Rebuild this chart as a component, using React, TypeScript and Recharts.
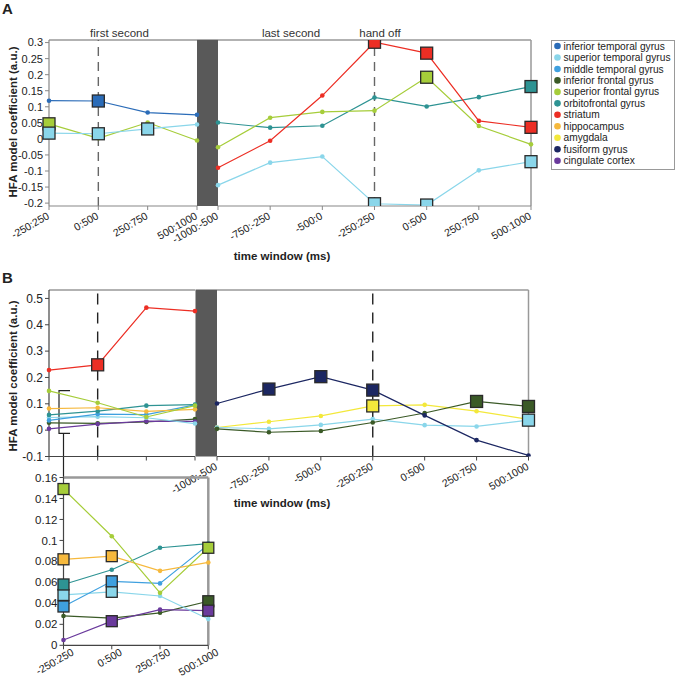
import React from "react";
import { LineChart, Line, XAxis, YAxis, ReferenceLine } from "recharts";

const FONT = "'Liberation Sans', Arial, sans-serif";

const firstWindows = ["-250:250", "0:500", "250:750", "500:1000"];
const lastWindows = ["-1000:-500", "-750:-250", "-500:0", "-250:250", "0:500", "250:750", "500:1000"];

const regionNames = [
  "inferior temporal gyrus",
  "superior temporal gyrus",
  "middle temporal gyrus",
  "inferior frontal gyrus",
  "superior frontal gyrus",
  "orbitofrontal gyrus",
  "striatum",
  "hippocampus",
  "amygdala",
  "fusiform gyrus",
  "cingulate cortex",
];
const regionColors = [
  "#2b6cb8",
  "#8ad6ea",
  "#3fa0df",
  "#3b5a27",
  "#a6cd3a",
  "#2e9393",
  "#ec2e24",
  "#f6b93d",
  "#f3e83b",
  "#1c2762",
  "#6a3a9c",
];

// panel A, first second
const aFirstInferiorTemporal = [0.119, 0.118, 0.082, 0.075];
const aFirstInferiorTemporalSig = [0, 1, 0, 0];
const aFirstSuperiorFrontal = [0.047, 0.002, 0.051, -0.005];
const aFirstSuperiorFrontalSig = [1, 0, 0, 0];
const aFirstSuperiorTemporal = [0.018, 0.016, 0.031, 0.045];
const aFirstSuperiorTemporalSig = [1, 1, 1, 0];

// panel A, last second
const aLastOrbitofrontal = [0.051, 0.035, 0.041, 0.129, 0.101, 0.13, 0.163];
const aLastOrbitofrontalSig = [0, 0, 0, 0, 0, 0, 1];
const aLastSuperiorFrontal = [-0.026, 0.066, 0.084, 0.088, 0.192, 0.04, -0.017];
const aLastSuperiorFrontalSig = [0, 0, 0, 0, 1, 0, 0];
const aLastSuperiorTemporal = [-0.144, -0.074, -0.055, -0.202, -0.206, -0.098, -0.071];
const aLastSuperiorTemporalSig = [0, 0, 0, 1, 1, 0, 1];
const aLastStriatum = [-0.09, -0.006, 0.135, 0.301, 0.267, 0.056, 0.036];
const aLastStriatumSig = [0, 0, 0, 1, 1, 0, 1];

// panel B, first second
const bFirstStriatum = [0.228, 0.248, 0.465, 0.452];
const bFirstStriatumSig = [0, 1, 0, 0];
const bFirstSuperiorFrontal = [0.149, 0.104, 0.05, 0.093];
const bFirstSuperiorFrontalSig = [1, 0, 0, 1];
const bFirstHippocampus = [0.082, 0.085, 0.071, 0.079];
const bFirstHippocampusSig = [1, 1, 0, 0];
const bFirstOrbitofrontal = [0.058, 0.072, 0.093, 0.097];
const bFirstOrbitofrontalSig = [1, 0, 0, 0];
const bFirstMiddleTemporal = [0.037, 0.061, 0.059, 0.096];
const bFirstMiddleTemporalSig = [1, 1, 0, 0];
const bFirstSuperiorTemporal = [0.048, 0.051, 0.047, 0.025];
const bFirstSuperiorTemporalSig = [1, 1, 0, 0];
const bFirstInferiorFrontal = [0.028, 0.026, 0.031, 0.042];
const bFirstInferiorFrontalSig = [0, 0, 0, 1];
const bFirstCingulate = [0.005, 0.023, 0.034, 0.033];
const bFirstCingulateSig = [0, 1, 0, 1];

// panel B, last second
const bLastAmygdala = [0.01, 0.032, 0.054, 0.092, 0.096, 0.072, 0.041];
const bLastAmygdalaSig = [0, 0, 0, 1, 0, 0, 0];
const bLastSuperiorTemporal = [0.01, 0.005, 0.02, 0.042, 0.019, 0.014, 0.038];
const bLastSuperiorTemporalSig = [0, 0, 0, 0, 0, 0, 1];
const bLastInferiorFrontal = [0.005, -0.008, -0.003, 0.029, 0.065, 0.109, 0.09];
const bLastInferiorFrontalSig = [0, 0, 0, 0, 0, 1, 1];
const bLastFusiform = [0.101, 0.156, 0.203, 0.152, 0.056, -0.038, -0.096];
const bLastFusiformSig = [0, 1, 1, 1, 0, 0, 0];

const aTicks = [0.3, 0.25, 0.2, 0.15, 0.1, 0.05, 0, -0.05, -0.1, -0.15, -0.2];
const bTicks = [0.5, 0.4, 0.3, 0.2, 0.1, 0, -0.1];
const insetTicks = [0.16, 0.14, 0.12, 0.1, 0.08, 0.06, 0.04, 0.02, 0];

const aDomain = [-0.209, 0.308];
const bDomain = [-0.1, 0.532];
const insetDomain = [0, 0.16];

type Series = { key: string; color: string; values: number[]; sig: number[] };

const c = (name: string) => regionColors[regionNames.indexOf(name)];
const none4 = [0, 0, 0, 0];

const aFirstSeries: Series[] = [
  { key: "it", color: c("inferior temporal gyrus"), values: aFirstInferiorTemporal, sig: aFirstInferiorTemporalSig },
  { key: "sf", color: c("superior frontal gyrus"), values: aFirstSuperiorFrontal, sig: aFirstSuperiorFrontalSig },
  { key: "st", color: c("superior temporal gyrus"), values: aFirstSuperiorTemporal, sig: aFirstSuperiorTemporalSig },
];
const aLastSeries: Series[] = [
  { key: "of", color: c("orbitofrontal gyrus"), values: aLastOrbitofrontal, sig: aLastOrbitofrontalSig },
  { key: "sf", color: c("superior frontal gyrus"), values: aLastSuperiorFrontal, sig: aLastSuperiorFrontalSig },
  { key: "st", color: c("superior temporal gyrus"), values: aLastSuperiorTemporal, sig: aLastSuperiorTemporalSig },
  { key: "str", color: c("striatum"), values: aLastStriatum, sig: aLastStriatumSig },
];
const insetSeries: Series[] = [
  { key: "if", color: c("inferior frontal gyrus"), values: bFirstInferiorFrontal, sig: bFirstInferiorFrontalSig },
  { key: "cc", color: c("cingulate cortex"), values: bFirstCingulate, sig: bFirstCingulateSig },
  { key: "st", color: c("superior temporal gyrus"), values: bFirstSuperiorTemporal, sig: bFirstSuperiorTemporalSig },
  { key: "mt", color: c("middle temporal gyrus"), values: bFirstMiddleTemporal, sig: bFirstMiddleTemporalSig },
  { key: "of", color: c("orbitofrontal gyrus"), values: bFirstOrbitofrontal, sig: bFirstOrbitofrontalSig },
  { key: "hc", color: c("hippocampus"), values: bFirstHippocampus, sig: bFirstHippocampusSig },
  { key: "sf", color: c("superior frontal gyrus"), values: bFirstSuperiorFrontal, sig: bFirstSuperiorFrontalSig },
];
const bFirstSeries: Series[] = [
  ...insetSeries.map((s) => ({ ...s, sig: none4 })),
  { key: "str", color: c("striatum"), values: bFirstStriatum, sig: bFirstStriatumSig },
];
const bLastSeries: Series[] = [
  { key: "am", color: c("amygdala"), values: bLastAmygdala, sig: bLastAmygdalaSig },
  { key: "st", color: c("superior temporal gyrus"), values: bLastSuperiorTemporal, sig: bLastSuperiorTemporalSig },
  { key: "if", color: c("inferior frontal gyrus"), values: bLastInferiorFrontal, sig: bLastInferiorFrontalSig },
  { key: "fg", color: c("fusiform gyrus"), values: bLastFusiform, sig: bLastFusiformSig },
];

const makeDot = (color: string, sig: number[], size: number) => (props: any) => {
  const { cx, cy, index } = props;
  if (cx == null || cy == null) return <g key={`e-${index}`} />;
  if (sig[index]) {
    return (
      <rect
        key={`s-${index}`}
        x={cx - size / 2}
        y={cy - size / 2}
        width={size}
        height={size}
        fill={color}
        stroke="#2a2a2a"
        strokeWidth={1.3}
      />
    );
  }
  return <circle key={`c-${index}`} cx={cx} cy={cy} r={2.3} fill={color} />;
};

const makeTick = (dx: number, dy: number) => (props: any) => {
  const { x, y, payload } = props;
  return (
    <g transform={`translate(${x + dx},${y + dy}) rotate(-30)`}>
      <text x={0} y={0} textAnchor="end" fontSize={10.5} fill="#222" fontFamily={FONT}>
        {payload.value}
      </text>
    </g>
  );
};
const emptyTick = () => <g />;

type SegProps = {
  windows: string[];
  series: Series[];
  width: number;
  height: number;
  margin: { top: number; right: number; bottom: number; left: number };
  domain: number[];
  ticks: number[];
  yWidth?: number;
  yFont?: number;
  showY: boolean;
  xLabels: boolean;
  xHeight: number;
  tickDx?: number;
  tickDy?: number;
  axisColor: string;
  borderColor: string;
  borderWidth?: number;
  rightBorder?: boolean;
  dashAt?: string;
  dashColor?: string;
  dashArray?: string;
  squareSize: number;
};

function Segment(p: SegProps) {
  const data = p.windows.map((w, i) => {
    const row: Record<string, string | number> = { window: w };
    p.series.forEach((s) => {
      row[s.key] = s.values[i];
    });
    return row;
  });
  return (
    <LineChart width={p.width} height={p.height} margin={p.margin} data={data}>
      <XAxis
        dataKey="window"
        height={p.xHeight}
        interval={0}
        tickSize={4}
        axisLine={{ stroke: p.axisColor, strokeWidth: 1.2 }}
        tickLine={{ stroke: p.axisColor }}
        tick={p.xLabels ? makeTick(p.tickDx ?? 1, p.tickDy ?? 6) : emptyTick}
      />
      <YAxis
        hide={!p.showY}
        width={p.yWidth ?? 0}
        type="number"
        domain={p.domain}
        ticks={p.ticks}
        interval={0}
        allowDataOverflow
        tickSize={4}
        axisLine={{ stroke: p.axisColor, strokeWidth: 1.2 }}
        tickLine={{ stroke: p.axisColor }}
        tick={{ fontSize: p.yFont ?? 11, fill: "#222", fontFamily: FONT }}
        tickFormatter={(v: number) => String(v)}
      />
      <ReferenceLine y={p.domain[1]} stroke={p.borderColor} strokeWidth={p.borderWidth ?? 1.5} />
      {p.rightBorder && (
        <ReferenceLine x={p.windows[p.windows.length - 1]} stroke={p.borderColor} strokeWidth={p.borderWidth ?? 1.5} />
      )}
      {p.dashAt && (
        <ReferenceLine x={p.dashAt} stroke={p.dashColor} strokeWidth={1.4} strokeDasharray={p.dashArray} />
      )}
      {p.series.map((s) => (
        <Line
          key={s.key}
          type="linear"
          dataKey={s.key}
          stroke={s.color}
          strokeWidth={1.2}
          dot={makeDot(s.color, s.sig, p.squareSize)}
          activeDot={false}
          isAnimationActive={false}
        />
      ))}
    </LineChart>
  );
}

const abs = (top: number): React.CSSProperties => ({ position: "absolute", left: 0, top });

export default function App() {
  return (
    <div style={{ position: "relative", width: 676, height: 680, background: "#fff", fontFamily: FONT }}>
      <style>{`body{margin:0}`}</style>
      <svg width={676} height={680} style={{ position: "absolute", left: 0, top: 0 }}>
        <rect x={197} y={39.5} width={21} height={166.5} fill="#595959" />
        <rect x={195.5} y={289.5} width={21.5} height={167} fill="#595959" />
        <text x={2} y={14} fontSize={15} fontWeight="bold" fill="#222">A</text>
        <text x={2} y={283} fontSize={15} fontWeight="bold" fill="#222">B</text>
        <text x={119.5} y={37} fontSize={11.5} textAnchor="middle" fill="#333">first second</text>
        <text x={291} y={37} fontSize={11.5} textAnchor="middle" fill="#333">last second</text>
        <text x={380} y={37} fontSize={11.5} textAnchor="middle" fill="#333">hand off</text>
        <text transform="rotate(-90)" x={-122} y={16.5} fontSize={11.5} fontWeight="bold" textAnchor="middle" fill="#222">
          HFA model coefficient (a.u.)
        </text>
        <text transform="rotate(-90)" x={-376} y={16.5} fontSize={11.5} fontWeight="bold" textAnchor="middle" fill="#222">
          HFA model coefficient (a.u.)
        </text>
        <text x={282} y={260} fontSize={11.5} fontWeight="bold" textAnchor="middle" fill="#222">time window (ms)</text>
        <text x={282} y={507} fontSize={11.5} fontWeight="bold" textAnchor="middle" fill="#222">time window (ms)</text>
        <path d="M70,390.7 H59 V433.3 H70" fill="none" stroke="#222" strokeWidth={1.2} />
        <line x1={63.5} y1={433.3} x2={63.5} y2={478} stroke="#222" strokeWidth={1.2} />
        <rect x={551.5} y={40.5} width={123} height={129} fill="#fff" stroke="#999" />
        {regionNames.map((name, i) => (
          <g key={name}>
            <circle cx={557.5} cy={46 + i * 11.47} r={3.3} fill={regionColors[i]} />
            <text x={563.5} y={49.6 + i * 11.47} fontSize={10.2} fill="#222">{name}</text>
          </g>
        ))}
      </svg>

      <div style={abs(0)}>
        <Segment
          windows={firstWindows}
          series={aFirstSeries}
          width={200}
          height={262}
          margin={{ top: 40, right: 3, bottom: 6, left: 0 }}
          domain={aDomain}
          ticks={aTicks}
          yWidth={49}
          showY
          xLabels
          xHeight={50}
          axisColor="#888"
          borderColor="#999"
          dashAt="0:500"
          dashColor="#666"
          dashArray="9 6"
          squareSize={12}
        />
      </div>
      <div style={abs(0)}>
        <Segment
          windows={lastWindows}
          series={aLastSeries}
          width={545}
          height={262}
          margin={{ top: 40, right: 14, bottom: 6, left: 218 }}
          domain={aDomain}
          ticks={aTicks}
          showY={false}
          xLabels
          xHeight={50}
          axisColor="#888"
          borderColor="#999"
          rightBorder
          dashAt="-250:250"
          dashColor="#666"
          dashArray="9 6"
          squareSize={12}
        />
      </div>
      <div style={abs(250)}>
        <Segment
          windows={firstWindows}
          series={bFirstSeries}
          width={200}
          height={262}
          margin={{ top: 40, right: 5, bottom: 5.5, left: 0 }}
          domain={bDomain}
          ticks={bTicks}
          yWidth={49}
          yFont={12}
          showY
          xLabels={false}
          xHeight={50}
          axisColor="#444"
          borderColor="#999"
          dashAt="0:500"
          dashColor="#222"
          dashArray="11 8"
          squareSize={12}
        />
      </div>
      <div style={abs(250)}>
        <Segment
          windows={lastWindows}
          series={bLastSeries}
          width={545}
          height={262}
          margin={{ top: 40, right: 16.5, bottom: 5.5, left: 217 }}
          domain={bDomain}
          ticks={bTicks}
          showY={false}
          xLabels
          xHeight={50}
          axisColor="#444"
          borderColor="#999"
          rightBorder
          dashAt="-250:250"
          dashColor="#222"
          dashArray="11 8"
          squareSize={12}
        />
      </div>
      <div style={abs(440)}>
        <Segment
          windows={firstWindows}
          series={insetSeries}
          width={245}
          height={240}
          margin={{ top: 37.5, right: 36.7, bottom: 0.7, left: 0 }}
          domain={insetDomain}
          ticks={insetTicks}
          yWidth={63.5}
          yFont={11.5}
          showY
          xLabels
          xHeight={34}
          tickDx={11}
          tickDy={3}
          axisColor="#444"
          borderColor="#999"
          borderWidth={2.5}
          rightBorder
          squareSize={11}
        />
      </div>
    </div>
  );
}
